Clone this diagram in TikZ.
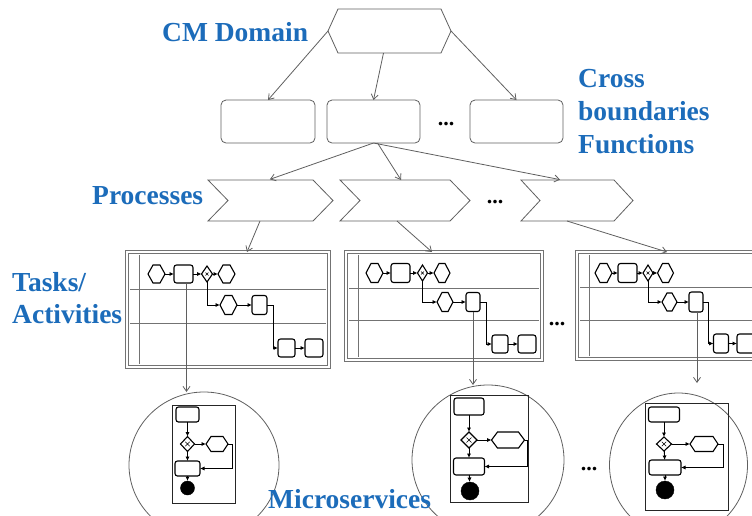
\documentclass[tikz,border=0pt]{standalone}
\usepackage{fontspec}
\setmainfont{Liberation Serif}
\usetikzlibrary{arrows.meta,shapes.geometric}

\definecolor{cmblue}{RGB}{28,108,186}
\definecolor{linegray}{RGB}{95,95,95}
\definecolor{poolgray}{RGB}{115,115,115}

% hexagon outline over the box of node #2, points #3 deep
\newcommand\hexpath[3][]{%
  \draw[#1] ([xshift=#3]#2.north west) -- ([xshift=-#3]#2.north east) -- (#2.east)
    -- ([xshift=-#3]#2.south east) -- ([xshift=#3]#2.south west) -- (#2.west) -- cycle;}
% chevron outline over the box of node #2, notch and point #3 deep
\newcommand\chevpath[3][]{%
  \draw[#1] (#2.north west) -- ([xshift=-#3]#2.north east) -- (#2.east)
    -- ([xshift=-#3]#2.south east) -- (#2.south west) -- ([xshift=#3]#2.west) -- cycle;}
% small cross inside an exclusive gateway
\newcommand\gatecross[2]{%
  \draw[line width=0.6pt] ([xshift=-#2,yshift=-#2]#1.center) -- ([xshift=#2,yshift=#2]#1.center)
    ([xshift=-#2,yshift=#2]#1.center) -- ([xshift=#2,yshift=-#2]#1.center);}
% pool with lanes: node #1, lane lines at #2 and #3
\newcommand\poollanes[3]{%
  \draw[poolgray, line width=0.9pt]
    ([xshift=3pt]#1.west |- 0,#2) -- ([xshift=-3pt]#1.east |- 0,#2)
    ([xshift=3pt]#1.west |- 0,#3) -- ([xshift=-3pt]#1.east |- 0,#3)
    ([xshift=12pt,yshift=-3pt]#1.north west) -- ([xshift=12pt,yshift=3pt]#1.south west);}

\tikzset{
  sz/.style 2 args={minimum width=#1, minimum height=#2},
  shell/.style={rectangle, draw=none, inner sep=0pt, outer sep=0pt},
  outline/.style={draw=linegray, line width=0.8pt},
  func/.style={rectangle, draw=linegray, line width=0.8pt, rounded corners=5pt, inner sep=0pt, outer sep=0pt},
  pool/.style={rectangle, draw=poolgray, line width=0.9pt, double=white, double distance=2pt, inner sep=0pt, outer sep=0pt},
  actline/.style={draw=black, line width=1.1pt},
  act/.style={rectangle, draw=black, line width=1.1pt, rounded corners=2.5pt, inner sep=0pt, outer sep=0pt},
  gate/.style={diamond, draw=black, line width=1.1pt, inner sep=0pt, outer sep=0pt},
  endev/.style={circle, draw=black, fill=black, inner sep=0pt, outer sep=0pt},
  msframe/.style={rectangle, draw=black!85, line width=0.7pt, inner sep=0pt, outer sep=0pt},
  msshell/.style={ellipse, draw=linegray, line width=0.8pt, inner sep=0pt, outer sep=0pt},
  flow/.style={draw=black, line width=0.9pt, -{Latex[length=4.5pt,width=4.2pt]}},
  link/.style={draw=linegray, line width=0.8pt, -{Straight Barb[length=5pt,width=7pt]}},
  lbl/.style={font=\bfseries\fontsize{27.5}{33}\selectfont, text=cmblue, inner sep=0pt, anchor=base west},
  dots/.style={font=\bfseries\fontsize{22}{24}\selectfont, inner sep=0pt}
}

\begin{document}
\begin{tikzpicture}[x=1pt, y=-1pt]
\clip (0,0) rectangle (752,515);

% ---------- domain and cross-boundary functions ----------
\node[shell, sz={123}{44}] (dom) at (389.5,31) {};
\hexpath[outline]{dom}{10pt}
\node[func, sz={94}{43}] (f1) at (268,121.5) {};
\node[func, sz={93}{43}] (f2) at (373.5,121.5) {};
\node[func, sz={93}{43}] (f3) at (516.5,121.5) {};
\node[dots] (fdots) at (446,124) {...};

\draw[link] (dom.west) -- (f1.north);
\draw[link] ([xshift=-6pt]dom.south) -- (f2.north);
\draw[link] (dom.east) -- (f3.north);

% ---------- processes ----------
\node[shell, sz={125}{41}] (c1) at (270.5,200.5) {};
\node[shell, sz={130}{41}] (c2) at (405,200.5) {};
\node[shell, sz={112}{41}] (c3) at (577,200.5) {};
\chevpath[outline]{c1}{20pt}
\chevpath[outline]{c2}{20pt}
\chevpath[outline]{c3}{19pt}
\node[dots] (cdots) at (495,202) {...};

\draw[link, shorten >=2pt] (f2.south) -- ([xshift=-2.5pt]c1.north);
\draw[link] ([xshift=4pt]f2.south) -- ([xshift=-4pt]c2.north);
\draw[link, shorten >=2pt] (f2.south) -- ([xshift=-15pt]c3.north);

% ---------- task pools ----------
\node[pool, sz={202}{115}] (p1) at (228,309.5) {};
\node[pool, sz={196}{108}] (p2) at (444,306) {};
\node[pool, sz={200}{107}] (p3) at (677,305.5) {};
\poollanes{p1}{289}{323}
\poollanes{p2}{288}{320}
\poollanes{p3}{287}{320}
\node[dots] (pdots) at (557,324) {...};

\draw[link] ([xshift=-10.5pt]c1.south) -- ([xshift=19pt]p1.north);
\draw[link] ([xshift=-8pt]c2.south) -- ([xshift=-12pt]p2.north);
\draw[link] ([xshift=-10pt]c3.south) -- ([xshift=-10pt]p3.north);

% pool 1
\node[shell, sz={17}{18}] (a1) at (156.5,274) {};
\hexpath[actline]{a1}{5pt}
\node[act, sz={19}{18}] (b1) at (183.5,274) {};
\node[gate, sz={11}{16}] (d1) at (207,274) {};
\gatecross{d1}{1.5pt}
\node[shell, sz={17}{18}] (e1) at (226.5,274) {};
\hexpath[actline]{e1}{5pt}
\node[shell, sz={17}{19}] (g1) at (228.5,305) {};
\hexpath[actline]{g1}{5pt}
\node[act, sz={15}{19}] (h1) at (259.5,305) {};
\node[act, sz={17}{18}] (i1) at (286.5,348) {};
\node[act, sz={18}{18}] (j1) at (314,348) {};
\draw[flow] (a1) -- (b1);
\draw[flow] (b1) -- (d1);
\draw[flow] (d1) -- (e1);
\draw[flow] (d1.south) |- (g1.west);
\draw[flow] (g1) -- (h1);
\draw[flow] (h1.east) -- ++(6,0) |- (i1.west);
\draw[flow] (i1) -- (j1);

% pool 2
\node[shell, sz={17}{19}] (a2) at (374.5,273) {};
\hexpath[actline]{a2}{5pt}
\node[act, sz={19}{19}] (b2) at (400.5,273) {};
\node[gate, sz={10}{16}] (d2) at (422.5,273) {};
\gatecross{d2}{1.5pt}
\node[shell, sz={16}{19}] (e2) at (442,273) {};
\hexpath[actline]{e2}{5pt}
\node[shell, sz={16}{19}] (g2) at (445,302) {};
\hexpath[actline]{g2}{5pt}
\node[act, sz={14}{19}] (h2) at (473,302) {};
\node[act, sz={16}{18}] (i2) at (500,344) {};
\node[act, sz={18}{18}] (j2) at (527,344) {};
\draw[flow] (a2) -- (b2);
\draw[flow] (b2) -- (d2);
\draw[flow] (d2) -- (e2);
\draw[flow] (d2.south) |- (g2.west);
\draw[flow] (g2) -- (h2);
\draw[flow] (h2.east) -- ++(6,0) |- (i2.west);
\draw[flow] (i2) -- (j2);

% pool 3
\node[shell, sz={17}{19}] (a3) at (603.5,273) {};
\hexpath[actline]{a3}{5pt}
\node[act, sz={19}{19}] (b3) at (627.5,273) {};
\node[gate, sz={10}{16}] (d3) at (648,273) {};
\gatecross{d3}{1.5pt}
\node[shell, sz={16}{19}] (e3) at (665.5,273) {};
\hexpath[actline]{e3}{5pt}
\node[shell, sz={15}{18}] (g3) at (669.5,302) {};
\hexpath[actline]{g3}{5pt}
\node[act, sz={14}{20}] (h3) at (696,302) {};
\node[act, sz={15}{19}] (i3) at (721,343.5) {};
\node[act, sz={18}{19}] (j3) at (746,343.5) {};
\draw[flow] (a3) -- (b3);
\draw[flow] (b3) -- (d3);
\draw[flow] (d3) -- (e3);
\draw[flow] (d3.south) |- (g3.west);
\draw[flow] (g3) -- (h3);
\draw[flow] (h3.east) -- ++(5,0) |- (i3.west);
\draw[flow] (i3) -- (j3);

% ---------- microservices ----------
\node[msshell, sz={150}{146}] (m1) at (204,465) {};
\node[msshell, sz={152}{150}] (m2) at (488,460) {};
\node[msshell, sz={138}{144}] (m3) at (678.5,465) {};
\node[dots] (mdots) at (589,469) {...};

\draw[link] ([xshift=3pt]b1.south) coordinate (v1) -- (v1 |- m1.north);
\draw[link] (h2.south) -- (h2.south |- m2.north);
\draw[link, shorten >=10pt] ([xshift=1pt]h3.south) coordinate (v3) -- (v3 |- m3.north);

% microservice 1
\node[msframe, sz={63}{98}] (k1) at (203.5,454) {};
\node[act, sz={23}{15}] (t1) at (187.5,414.5) {};
\node[gate, sz={14}{15}] (x1) at (187.5,444) {};
\gatecross{x1}{2.2pt}
\node[shell, sz={22}{15}] (s1) at (217,444) {};
\hexpath[actline]{s1}{5pt}
\node[act, sz={25}{15}] (r1) at (187.5,468.5) {};
\node[endev, minimum size=14] (z1) at (187.5,488) {};
\draw[flow] (t1) -- (x1);
\draw[flow] (x1) -- (s1);
\draw[flow] (s1.east) -- ++(4,0) |- (r1.east);
\draw[flow] (x1) -- (r1);
\draw[flow] (r1) -- (z1);

% microservice 2
\node[msframe, sz={78}{107}] (k2) at (489,448.5) {};
\node[act, sz={30}{17}] (t2) at (469,406.5) {};
\node[gate, sz={16}{16}] (x2) at (469,440) {};
\gatecross{x2}{2.5pt}
\node[shell, sz={33}{16}] (s2) at (508,440) {};
\hexpath[actline]{s2}{6pt}
\node[act, sz={31}{17}] (r2) at (469,466.5) {};
\node[endev, minimum size=18] (z2) at (470,491) {};
\draw[flow] (t2) -- (x2);
\draw[flow] (x2) -- (s2);
\draw[flow] (s2.east) -- ++(2.5,0) |- (r2.east);
\draw[flow] (x2) -- (r2);
\draw[flow] (r2) -- (z2);

% microservice 3
\node[msframe, sz={83}{107}] (k3) at (686.5,456.5) {};
\node[act, sz={31}{15}] (t3) at (664,414.5) {};
\node[gate, sz={15}{14}] (x3) at (664,444) {};
\gatecross{x3}{2.2pt}
\node[shell, sz={28}{15}] (s3) at (704,444) {};
\hexpath[actline]{s3}{5pt}
\node[act, sz={32}{15}] (r3) at (665,467.5) {};
\node[endev, minimum size=18] (z3) at (665,490) {};
\draw[flow] (t3) -- (x3);
\draw[flow] (x3) -- (s3);
\draw[flow] (s3.east) -- ++(5,0) |- (r3.east);
\draw[flow] (x3) -- (r3);
\draw[flow] (r3) -- (z3);

% ---------- labels ----------
\node[lbl] (lcm) at (162,41) {CM Domain};
\node[lbl] (lcross) at (578,87) {Cross};
\node[lbl] (lbound) at (578,120) {boundaries};
\node[lbl] (lfunc) at (578,153) {Functions};
\node[lbl] (lproc) at (92,204) {Processes};
\node[lbl] (ltask) at (12,291) {Tasks/};
\node[lbl] (lact) at (12,323) {Activities};
\node[lbl] (lms) at (268,508) {Microservices};
\end{tikzpicture}
\end{document}
